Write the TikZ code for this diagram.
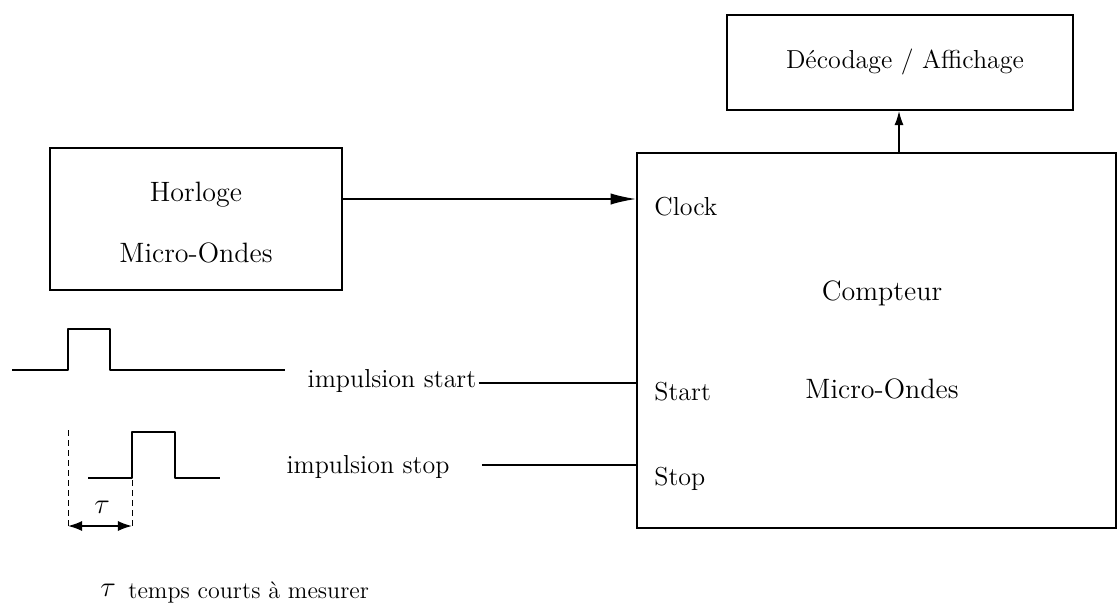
\documentclass[tikz,border=0pt]{standalone}
\usetikzlibrary{arrows.meta,positioning}

\tikzset{
  bloc/.style={draw,line width=0.9pt,rectangle,inner sep=0pt},
  txt/.style={font=\fontsize{14}{16}\selectfont,inner sep=1pt},
  petit/.style={font=\fontsize{13}{15}\selectfont,inner sep=1pt},
  fil/.style={line width=0.8pt},
  signal/.style={line width=1.1pt,line join=round}
}

\begin{document}
\begin{tikzpicture}[x=0.5pt,y=-0.5pt]
  \useasboundingbox (0,0) rectangle (1118,605);
  % blocs
  \node[bloc,minimum width=146pt,minimum height=71pt] (horloge) at (196,219) {};
  \node[txt] (horl1) at (196,195) {Horloge};
  \node[txt] (horl2) at (196,253) {Micro-Ondes};
  \node[bloc,minimum width=239.5pt,minimum height=187.5pt] (compteur) at (876.5,340.5) {};
  \node[txt] (cpt1) at (882,293) {Compteur};
  \node[txt] (cpt2) at (882,389) {Micro-Ondes};
  \node[bloc,minimum width=173pt,minimum height=47.5pt] (affich) at (900,62.5) {};
  \node[petit] (affichtxt) at (905,62) {Décodage / Affichage};
  % entrees du compteur
  \node[petit,anchor=west] (clock) at (652,207) {Clock};
  \node[petit,anchor=west] (start) at (652,392) {Start};
  \node[petit,anchor=west] (stop) at (652,479) {Stop};
  \node[petit] (impstart) at (392,381) {impulsion start};
  \node[petit] (impstop) at (368,467) {impulsion stop};
  % liaisons
  \draw[fil,-{Latex[length=4.5mm,width=2mm]}] (horloge.east |- 0,199) -- (compteur.west |- 0,199);
  \draw[fil] (impstart.east) ++(0,2) -- (compteur.west |- 0,383);
  \draw[fil] (impstop.east) ++(30,-2) -- (compteur.west |- 0,465);
  \draw[fil,-{Latex[length=2.5mm,width=1.6mm]}] (compteur.north -| 899,0) -- (affich.south -| 899,0);
  % signaux
  \draw[signal] (12,370) -- (68,370) -- (68,329) -- (110,329) -- (110,370) -- (285,370);
  \draw[signal] (88,478) -- (132,478) -- (132,432) -- (175,432) -- (175,478) -- (220,478);
  \draw[densely dashed,line width=0.4pt] (68,430) -- (68,527);
  \draw[densely dashed,line width=0.4pt] (132,480) -- (132,527);
  \draw[fil,{Latex[length=2.5mm,width=1.8mm]}-{Latex[length=2.5mm,width=1.8mm]}] (68,526) -- (132,526);
  \node[txt] (tau) at (102,507) {$\tau$};
  \node[txt] (tau2) at (108,590) {$\tau$};
  \node[font=\fontsize{12}{14}\selectfont,inner sep=1pt,anchor=west] (legende) at (126,592) {temps courts à mesurer};
\end{tikzpicture}
\end{document}
